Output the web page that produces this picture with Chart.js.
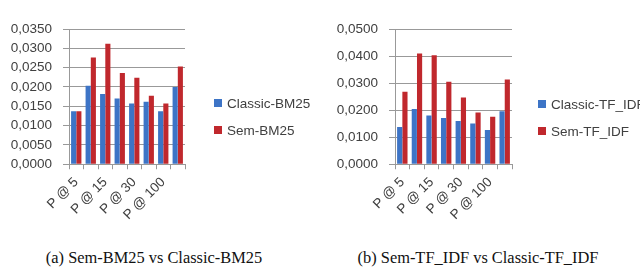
<!DOCTYPE html>
<html>
<head>
<meta charset="utf-8">
<script src="https://cdn.jsdelivr.net/npm/chart.js@4"></script>
<style>
  body { margin: 0; width: 640px; height: 272px; overflow: hidden; background: #fff; position: relative;
         font-family: "Liberation Sans", Arial, sans-serif; }
  .box { position: absolute; top: 0; width: 320px; height: 234px; }
  #boxA { left: 0; }
  #boxB { left: 320px; }
  .legend { position: absolute; font-size: 13.5px; color: #404040; }
  .legend div { height: 27px; line-height: 14px; white-space: nowrap; }
  .legend span { display: inline-block; width: 8px; height: 8px; margin-right: 5px; vertical-align: 1px; }
  .cap { position: absolute; top: 248px; width: 320px; text-align: center;
         font-family: "Liberation Serif", "Times New Roman", serif; font-size: 16.4px; color: #111; }
</style>
</head>
<body>
<div class="box" id="boxA"><canvas id="chartA"></canvas></div>
<div class="box" id="boxB"><canvas id="chartB"></canvas></div>
<div class="legend" id="legendA" style="left:214px; top:97px"></div>
<div class="legend" id="legendB" style="left:538px; top:98px"></div>
<div class="cap" style="left:-6px">(a) Sem-BM25 vs Classic-BM25</div>
<div class="cap" style="left:318px">(b) Sem-TF_IDF vs Classic-TF_IDF</div>
<script>
const categories = ["P @ 5", "P @ 10", "P @ 15", "P @ 20", "P @ 30", "P @ 50", "P @ 100", "P @ 200"];

const classicBM25 = [0.0137, 0.0203, 0.0182, 0.0170, 0.0157, 0.0162, 0.0137, 0.0200];
const semBM25 = [0.0137, 0.0276, 0.0312, 0.0236, 0.0224, 0.0177, 0.0157, 0.0253];

const classicTFIDF = [0.0138, 0.0204, 0.0180, 0.0171, 0.0160, 0.0151, 0.0127, 0.0196];
const semTFIDF = [0.0268, 0.0409, 0.0403, 0.0305, 0.0247, 0.0191, 0.0176, 0.0313];

Chart.defaults.font.family = '"Liberation Sans", Arial, sans-serif';
Chart.defaults.font.size = 13.5;
Chart.defaults.color = "#404040";

function makeChart(id, legendId, blue, red, names, yMax, step, pad) {
  let chart = new Chart(document.getElementById(id), {
    type: "bar",
    data: {
      labels: categories,
      datasets: [
        { label: names[0], data: blue, backgroundColor: "#3d74c6" },
        { label: names[1], data: red, backgroundColor: "#c0282d" },
      ],
    },
    options: {
      responsive: true,
      maintainAspectRatio: false,
      animation: false,
      datasets: { bar: { categoryPercentage: 0.72, barPercentage: 0.98 } },
      layout: { padding: pad },
      plugins: {
        legend: { display: false },
        tooltip: { enabled: false },
      },
      scales: {
        x: {
          grid: { display: true, drawOnChartArea: false, tickLength: 5, color: "#999" },
          border: { color: "#999" },
          ticks: {
            autoSkip: false,
            minRotation: 45,
            maxRotation: 45,
            padding: 5,
            callback: (v, i) => (i % 2 === 0 ? categories[i] : ""),
          },
        },
        y: {
          min: 0,
          max: yMax,
          afterFit: (s) => { s.width = 58; },
          grid: { color: "#999", tickLength: 6 },
          border: { color: "#999" },
          ticks: {
            stepSize: step,
            autoSkip: false,
            padding: 11,
            callback: (v) => v.toFixed(4).replace(".", ","),
          },
        },
      },
    },
  });

  // legend in html, from the datasets
  let legend = document.getElementById(legendId);
  chart.data.datasets.forEach((ds) => {
    let row = document.createElement("div");
    let sw = document.createElement("span");
    sw.style.background = ds.backgroundColor;
    row.appendChild(sw);
    row.appendChild(document.createTextNode(ds.label));
    legend.appendChild(row);
  });
  return chart;
}

makeChart("chartA", "legendA", classicBM25, semBM25, ["Classic-BM25", "Sem-BM25"], 0.035, 0.005,
  { left: 11, top: 29, right: 135, bottom: 6 });
makeChart("chartB", "legendB", classicTFIDF, semTFIDF, ["Classic-TF_IDF", "Sem-TF_IDF"], 0.05, 0.01,
  { left: 17, top: 29, right: 128, bottom: 6 });
</script>
</body>
</html>
